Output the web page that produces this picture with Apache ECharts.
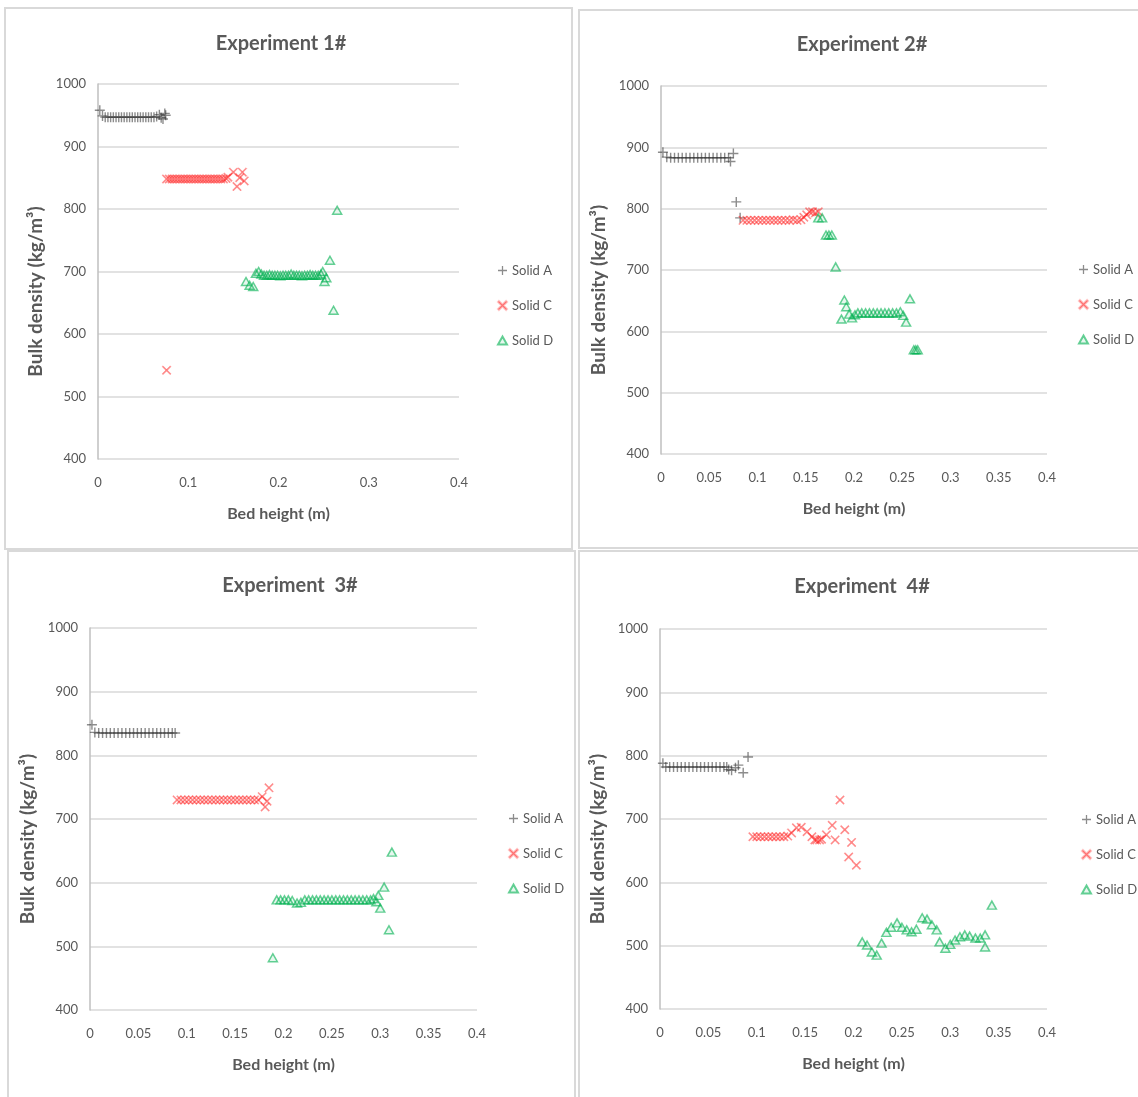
<!DOCTYPE html>
<html>
<head>
<meta charset="utf-8">
<script src="https://cdn.jsdelivr.net/npm/echarts@6/dist/echarts.min.js"></script>
<style>
html, body { margin: 0; padding: 0; background: #fff; }
#main { width: 1138px; height: 1097px; }
</style>
</head>
<body>
<div id="main"></div>
<script>
// data: [bed height (m), bulk density (kg/m3)]
var exp1SolidA = [[0.002,958],[0.005,949],[0.008,947],[0.011,947],[0.014,947],[0.017,947],[0.020,947],[0.023,947],[0.026,947],[0.029,947],[0.032,947],[0.035,947],[0.038,947],[0.041,947],[0.044,947],[0.047,947],[0.050,947],[0.053,947],[0.056,947],[0.059,947],[0.062,947],[0.065,948],[0.068,951],[0.070,946],[0.072,944],[0.074,953],[0.075,950]];
var exp1SolidC = [[0.076,542],[0.076,848],[0.079,848],[0.082,848],[0.085,848],[0.088,848],[0.091,848],[0.094,848],[0.097,848],[0.100,848],[0.103,848],[0.106,848],[0.109,848],[0.112,848],[0.115,848],[0.118,848],[0.121,848],[0.124,848],[0.127,848],[0.130,848],[0.133,848],[0.136,848],[0.139,848],[0.142,849],[0.144,851],[0.150,859],[0.154,836],[0.157,850],[0.160,859],[0.162,845]];
var exp1SolidD = [[0.164,684],[0.168,678],[0.172,676],[0.175,697],[0.178,700],[0.181,696],[0.184,694],[0.187,694],[0.190,695],[0.193,694],[0.196,694],[0.199,694],[0.202,693],[0.205,694],[0.208,694],[0.211,694],[0.214,696],[0.217,694],[0.220,694],[0.223,694],[0.226,693],[0.229,694],[0.232,694],[0.235,695],[0.238,694],[0.241,694],[0.244,694],[0.247,696],[0.249,700],[0.251,684],[0.253,690],[0.257,718],[0.261,638],[0.265,798]];

var exp2SolidA = [[0.002,892],[0.006,884],[0.010,883],[0.014,883],[0.018,883],[0.022,883],[0.026,883],[0.030,883],[0.034,883],[0.038,883],[0.042,883],[0.046,883],[0.050,883],[0.054,883],[0.058,883],[0.062,883],[0.066,883],[0.070,883],[0.072,877],[0.075,890],[0.078,811],[0.082,785]];
var exp2SolidC = [[0.085,781],[0.089,781],[0.093,781],[0.097,781],[0.101,781],[0.105,781],[0.109,781],[0.113,781],[0.117,781],[0.121,781],[0.125,781],[0.129,781],[0.133,781],[0.137,782],[0.141,781],[0.145,782],[0.148,786],[0.151,790],[0.154,795],[0.157,795],[0.160,793],[0.163,795]];
var exp2SolidD = [[0.163,785],[0.167,785],[0.171,757],[0.174,757],[0.177,757],[0.181,705],[0.187,620],[0.190,651],[0.192,640],[0.195,628],[0.198,622],[0.201,627],[0.204,630],[0.208,630],[0.212,630],[0.216,630],[0.220,630],[0.224,630],[0.228,630],[0.232,630],[0.236,630],[0.240,630],[0.244,630],[0.248,632],[0.251,626],[0.254,615],[0.258,653],[0.262,570],[0.264,570],[0.266,570]];

var exp3SolidA = [[0.002,848],[0.005,836],[0.009,835],[0.013,835],[0.017,835],[0.021,835],[0.025,835],[0.029,835],[0.033,835],[0.037,835],[0.041,835],[0.045,835],[0.049,835],[0.053,835],[0.057,835],[0.061,835],[0.065,835],[0.069,835],[0.073,835],[0.077,835],[0.081,835],[0.085,835],[0.088,835]];
var exp3SolidC = [[0.090,730],[0.094,730],[0.098,730],[0.102,730],[0.106,730],[0.110,730],[0.114,730],[0.118,730],[0.122,730],[0.126,730],[0.130,730],[0.134,730],[0.138,730],[0.142,730],[0.146,730],[0.150,730],[0.154,730],[0.158,730],[0.162,730],[0.166,730],[0.170,730],[0.174,730],[0.178,735],[0.181,719],[0.183,728],[0.185,749]];
var exp3SolidD = [[0.189,482],[0.193,573],[0.197,573],[0.201,573],[0.205,573],[0.209,572],[0.214,568],[0.218,569],[0.222,573],[0.226,573],[0.230,573],[0.234,573],[0.238,573],[0.242,573],[0.246,573],[0.250,573],[0.254,573],[0.258,573],[0.262,573],[0.266,573],[0.270,573],[0.274,573],[0.278,573],[0.282,573],[0.286,573],[0.290,573],[0.293,575],[0.296,570],[0.298,580],[0.300,560],[0.304,593],[0.309,526],[0.312,648]];

var exp4SolidA = [[0.003,788],[0.006,782],[0.010,782],[0.014,782],[0.018,782],[0.022,782],[0.026,782],[0.030,782],[0.034,782],[0.038,782],[0.042,782],[0.046,782],[0.050,782],[0.054,782],[0.058,782],[0.062,782],[0.066,782],[0.069,782],[0.071,778],[0.074,777],[0.078,781],[0.081,785],[0.086,773],[0.091,798]];
var exp4SolidC = [[0.096,672],[0.100,672],[0.104,672],[0.108,672],[0.112,672],[0.116,672],[0.120,672],[0.124,672],[0.128,672],[0.132,673],[0.136,678],[0.141,686],[0.146,687],[0.152,680],[0.157,672],[0.160,667],[0.162,667],[0.165,667],[0.167,668],[0.172,675],[0.178,690],[0.181,667],[0.186,730],[0.191,683],[0.195,640],[0.198,663],[0.203,627]];
var exp4SolidD = [[0.209,506],[0.214,501],[0.219,490],[0.224,485],[0.229,504],[0.234,521],[0.239,529],[0.245,536],[0.250,529],[0.255,525],[0.260,522],[0.265,526],[0.271,544],[0.276,542],[0.281,533],[0.286,525],[0.289,506],[0.295,496],[0.300,502],[0.305,509],[0.310,514],[0.315,517],[0.320,515],[0.326,512],[0.331,512],[0.336,517],[0.336,498],[0.343,564]];

var titles = ['Experiment 1#', 'Experiment 2#', 'Experiment  3#', 'Experiment  4#'];
var seriesNames = ['Solid A', 'Solid C', 'Solid D'];
var xSteps = [0.1, 0.05, 0.05, 0.05];
var panelData = [
  [exp1SolidA, exp1SolidC, exp1SolidD],
  [exp2SolidA, exp2SolidC, exp2SolidD],
  [exp3SolidA, exp3SolidC, exp3SolidD],
  [exp4SolidA, exp4SolidC, exp4SolidD]
];

// layout of the four panels
var grids = [
  {left: 98, top: 84, width: 361, height: 375},
  {left: 661, top: 86, width: 386, height: 368},
  {left: 90, top: 628, width: 387, height: 382},
  {left: 660, top: 629, width: 387, height: 380}
];
var titlePos = [[276, 29], [857, 30], [285, 571], [857, 572]];
var legendPos = [[497, 262], [1078, 261], [508, 810], [1081, 811]];
var frames = [[5, 8, 567, 541], [579, 10, 562, 538], [8, 551, 567, 550], [579, 551, 562, 550]];

var txtColor = '#595959';
var font = 'Lato';

var plusPath = 'path://M4.3,0h1.4v10h-1.4zM0,4.3h10v1.4h-10z';
var crossPath = 'path://M0,1L1,0L10,9L9,10ZM9,0L10,1L1,10L0,9Z';
var triPath = 'path://M5,0L10,9H0Z';
var styles = [
  {symbol: plusPath, symbolSize: 10, itemStyle: {color: 'rgba(50,50,50,0.7)'}},
  {symbol: crossPath, symbolSize: 9, itemStyle: {color: 'rgba(255,20,20,0.6)', borderColor: 'rgba(255,20,20,0.3)', borderWidth: 0.6}},
  {symbol: triPath, symbolSize: [9, 8], itemStyle: {color: 'rgba(0,176,80,0.12)', borderColor: 'rgba(0,176,80,0.75)', borderWidth: 1.5}}
];

var chart = echarts.init(document.getElementById('main'));

var option = {
  backgroundColor: '#fff',
  animation: false,
  title: [],
  legend: [],
  grid: [],
  xAxis: [],
  yAxis: [],
  series: [],
  graphic: []
};

for (var p = 0; p < 4; p++) {
  option.graphic.push({
    type: 'rect',
    shape: {x: frames[p][0], y: frames[p][1], width: frames[p][2], height: frames[p][3]},
    style: {fill: 'none', stroke: '#d9d9d9', lineWidth: 2},
    silent: true
  });
  option.title.push({
    text: titles[p],
    left: titlePos[p][0],
    top: titlePos[p][1],
    textAlign: 'center',
    textStyle: {fontFamily: font, fontSize: 20, fontWeight: 'bold', color: txtColor}
  });
  option.legend.push({
    orient: 'vertical',
    left: legendPos[p][0],
    top: legendPos[p][1],
    padding: 0,
    itemGap: 18,
    itemWidth: 9,
    itemHeight: 9,
    itemTextGap: 2,
    data: [
      {name: seriesNames[0], icon: plusPath},
      {name: seriesNames[1], icon: crossPath},
      {name: seriesNames[2], icon: triPath}
    ],
    selectedMode: false,
    textStyle: {fontFamily: font, fontSize: 13, color: txtColor, lineHeight: 17}
  });
  option.grid.push(grids[p]);
  option.xAxis.push({
    type: 'value',
    gridIndex: p,
    min: 0,
    max: 0.4,
    interval: xSteps[p],
    name: 'Bed height (m)',
    nameLocation: 'middle',
    nameGap: 47,
    nameTextStyle: {fontFamily: font, fontSize: 16, fontWeight: 'bold', color: txtColor},
    axisLine: {show: false},
    axisTick: {show: false},
    splitLine: {show: false},
    axisLabel: {margin: 17, fontFamily: font, fontSize: 13, color: txtColor}
  });
  option.yAxis.push({
    type: 'value',
    gridIndex: p,
    min: 400,
    max: 1000,
    interval: 100,
    name: 'Bulk density (kg/m\u00b3)',
    nameLocation: 'middle',
    nameGap: 53,
    nameTextStyle: {fontFamily: font, fontSize: 19, fontWeight: 'bold', color: txtColor, padding: [0, 40, 0, 0]},
    axisLine: {show: true, lineStyle: {color: '#bfbfbf', width: 1.5}},
    axisTick: {show: false},
    splitLine: {show: true, lineStyle: {color: '#d9d9d9', width: 1.5}},
    axisLabel: {margin: 12, fontFamily: font, fontSize: 13, color: txtColor, formatter: function (v) { return String(v); }}
  });
  for (var s = 0; s < 3; s++) {
    option.series.push({
      name: seriesNames[s],
      type: 'scatter',
      xAxisIndex: p,
      yAxisIndex: p,
      symbol: styles[s].symbol,
      symbolSize: styles[s].symbolSize,
      itemStyle: styles[s].itemStyle,
      data: panelData[p][s]
    });
  }
}

chart.setOption(option);
</script>
</body>
</html>
